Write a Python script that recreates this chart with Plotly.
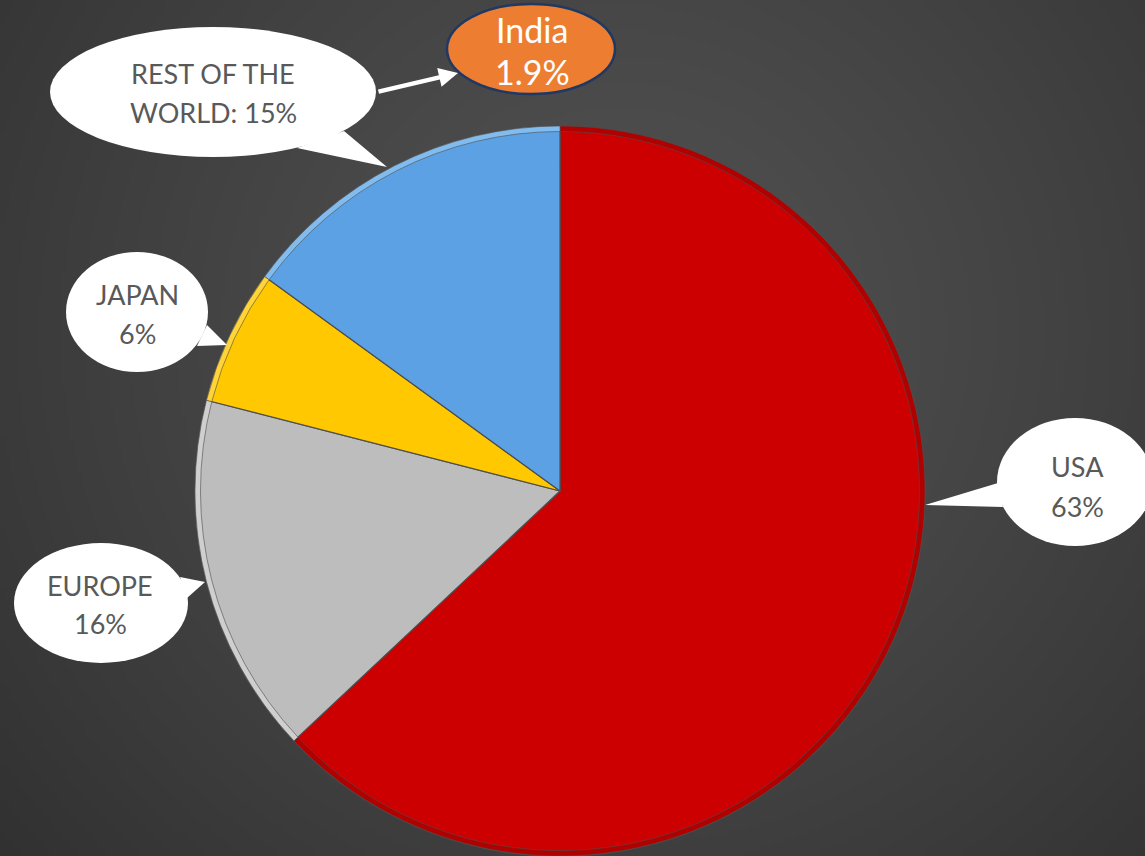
import base64
import struct
import zlib

import numpy as np
import plotly.graph_objects as go

# ---- data -------------------------------------------------------------
regions = ["USA", "EUROPE", "JAPAN", "REST OF THE WORLD"]
shares = [63, 16, 6, 15]
slice_colors = ["#cc0000", "#bdbdbd", "#ffc800", "#5ca1e3"]
rim_colors = ["#b00000", "#cfcfcf", "#ffd438", "#82bcee"]
india_label = "India"
india_share = 1.9

W, H = 1145, 856


# ---- dark radial background, written as a tiny PNG ---------------------
def radial_png(w, h, scale):
    ys, xs = np.mgrid[0:h, 0:w].astype(float)
    xs = xs * scale
    ys = ys * scale
    d = np.sqrt((xs - 620) ** 2 + (ys - 330) ** 2) / 800.0
    v = 0x52 - 0x20 * np.clip(d, 0, 1.3) ** 1.2
    v = np.clip(v, 0, 255).astype(np.uint8)
    img = np.dstack([v, v, v])
    raw = b"".join(b"\x00" + row.tobytes() for row in img)

    def chunk(tag, data):
        c = struct.pack(">I", len(data)) + tag + data
        return c + struct.pack(">I", zlib.crc32(tag + data) & 0xFFFFFFFF)

    png = b"\x89PNG\r\n\x1a\n"
    png += chunk(b"IHDR", struct.pack(">IIBBBBB", w, h, 8, 2, 0, 0, 0))
    png += chunk(b"IDAT", zlib.compress(raw, 9))
    png += chunk(b"IEND", b"")
    return "data:image/png;base64," + base64.b64encode(png).decode()


bg_src = radial_png(W // 4 + 1, H // 4 + 1, 4)

# ---- pie ---------------------------------------------------------------
pie_domain = dict(x=[195 / W, 925 / W], y=[0, 730 / H])

fig = go.Figure()
fig.add_trace(go.Pie(
    labels=regions, values=shares, sort=False, direction="clockwise",
    rotation=0, textinfo="none", hoverinfo="label+percent",
    marker=dict(colors=slice_colors, line=dict(color="#4e4e4e", width=1.2)),
    domain=pie_domain, showlegend=False,
))
# bevelled outer rim
fig.add_trace(go.Pie(
    labels=regions, values=shares, sort=False, direction="clockwise",
    rotation=0, textinfo="none", hoverinfo="skip", hole=0.985,
    marker=dict(colors=rim_colors, line=dict(color="#4e4e4e", width=0.6)),
    domain=pie_domain, showlegend=False,
))

# ---- speech bubbles ----------------------------------------------------
def bubble_lines(name, share):
    if " " in name and len(name) > 8:
        head, tail = name.rsplit(" ", 1)
        return [head, f"{tail}: {share}%"]
    return [name, f"{share}%"]


bubbles = {
    "USA": dict(c=(1075, 482), r=(78, 64), base=[(998, 483), (1003, 507)],
                tip=(925, 505), tx=1077, ty=[466, 506]),
    "EUROPE": dict(c=(101, 603), r=(87, 60), base=[(180, 577), (187, 598)],
                   tip=(205, 582), tx=100, ty=[585, 623]),
    "JAPAN": dict(c=(137, 312), r=(71, 60), base=[(207, 325), (197, 346)],
                  tip=(227, 345), tx=137, ty=[294, 333]),
    "REST OF THE WORLD": dict(c=(213, 92), r=(163, 65),
                              base=[(297, 148), (344, 131)], tip=(387, 167),
                              tx=213, ty=[73, 112]),
}

shapes = []
annotations = []
for name, share in zip(regions, shares):
    b = bubbles[name]
    (cx, cy), (rx, ry) = b["c"], b["r"]
    (x1, y1), (x2, y2) = b["base"]
    tx, ty = b["tip"]
    shapes.append(dict(type="path", xref="x", yref="y", layer="above",
                       path=f"M {x1},{y1} L {tx},{ty} L {x2},{y2} Z",
                       fillcolor="white", line=dict(width=0)))
    shapes.append(dict(type="circle", xref="x", yref="y", layer="above",
                       x0=cx - rx, x1=cx + rx, y0=cy - ry, y1=cy + ry,
                       fillcolor="white", line=dict(width=0)))
    for line, y in zip(bubble_lines(name, share), b["ty"]):
        annotations.append(dict(
            x=b["tx"], y=y, xref="x", yref="y", text=line, showarrow=False,
            xanchor="center", yanchor="middle",
            font=dict(family="Lato", size=27, color="#595959")))

# India call-out
shapes.append(dict(type="circle", xref="x", yref="y", layer="above",
                   x0=531 - 84, x1=531 + 84, y0=49 - 45, y1=49 + 45,
                   fillcolor="#ed7d31", line=dict(color="#1f3864", width=2.5)))
for line, y in zip([india_label, f"{india_share}%"], [29, 71]):
    annotations.append(dict(
        x=532, y=y, xref="x", yref="y", text=line, showarrow=False,
        xanchor="center", yanchor="middle",
        font=dict(family="Lato", size=34, color="white")))
annotations.append(dict(
    x=458, y=73, ax=377, ay=92, xref="x", yref="y", axref="x", ayref="y",
    text="", showarrow=True, arrowhead=2, arrowsize=0.85, arrowwidth=4.5,
    arrowcolor="white"))

fig.update_layout(
    width=W, height=H, margin=dict(l=0, r=0, t=0, b=0),
    paper_bgcolor="#3c3c3c", plot_bgcolor="rgba(0,0,0,0)",
    xaxis=dict(range=[0, W], visible=False, fixedrange=True),
    yaxis=dict(range=[H, 0], visible=False, fixedrange=True),
    shapes=shapes, annotations=annotations,
    images=[dict(source=bg_src, xref="paper", yref="paper", x=0, y=1,
                 sizex=1, sizey=1, sizing="stretch", layer="below",
                 xanchor="left", yanchor="top")],
)

fig.write_html("out.html")
